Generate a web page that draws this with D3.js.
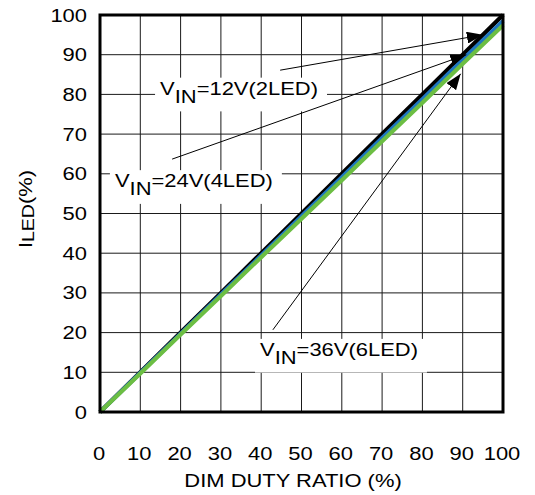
<!DOCTYPE html>
<html>
<head>
<meta charset="utf-8">
<script src="https://cdn.jsdelivr.net/npm/d3@7"></script>
<style>
  html, body { margin: 0; padding: 0; background: #fff; }
  svg { display: block; }
  text { font-family: "Liberation Sans", Arial, sans-serif; fill: #000; }
</style>
</head>
<body>
<div id="chart"></div>
<script>
// ---- data ----
const dutyRatio = [0, 10, 20, 30, 40, 50, 60, 70, 80, 90, 100];
const iled12V = [0, 10, 20, 30, 40, 50, 60, 70, 80, 90, 100];
const iled24V = [0, 9.9, 19.7, 29.6, 39.4, 49.3, 59.1, 69.0, 78.8, 88.7, 98.5];
const iled36V = [0, 9.7, 19.5, 29.2, 39.0, 48.7, 58.4, 68.2, 77.9, 87.7, 97.4];
const xTicks = [0, 10, 20, 30, 40, 50, 60, 70, 80, 90, 100];
const yTicks = [0, 10, 20, 30, 40, 50, 60, 70, 80, 90, 100];
const seriesNames = ["12V(2LED)", "24V(4LED)", "36V(6LED)"];
const seriesColors = ["#000000", "#1f77c0", "#6cbe43"];
// annotation labels: [main, subscript, rest] and anchor (data units)
const labelTexts = [["V", "IN", "=12V(2LED)"], ["V", "IN", "=24V(4LED)"], ["V", "IN", "=36V(6LED)"]];
const labelAnchorX = [14.9, 3.7, 39.7];
const labelAnchorY = [79.9, 56.6, 14.1];
// arrows: start (data) -> tip (data)
const arrowFromX = [44.7, 17.9, 42.9];
const arrowFromY = [86.1, 63.7, 20.7];
const arrowToX = [95.0, 90.9, 89.5];
const arrowToY = [95.0, 90.0, 85.2];

// ---- layout ----
const W = 535, H = 495;
const margin = { left: 100, right: 32, top: 15, bottom: 83 };
const SX = 1.22; // horizontal text stretch
const FS = 18;

const svg = d3.select("#chart").append("svg").attr("width", W).attr("height", H);

const x = d3.scaleLinear().domain([0, 100]).range([margin.left, W - margin.right]);
const y = d3.scaleLinear().domain([0, 100]).range([H - margin.bottom, margin.top]);

// grid
const grid = svg.append("g");
grid.selectAll(".vg").data(xTicks.slice(1, -1)).join("line")
  .attr("x1", d => x(d)).attr("x2", d => x(d))
  .attr("y1", y(0)).attr("y2", y(100))
  .attr("stroke", "#1a1a1a").attr("stroke-width", 1);
grid.selectAll(".hg").data(yTicks.slice(1, -1)).join("line")
  .attr("x1", x(0)).attr("x2", x(100))
  .attr("y1", d => y(d)).attr("y2", d => y(d))
  .attr("stroke", "#1a1a1a").attr("stroke-width", 1);

// annotation labels with white background boxes
const boxLayer = svg.append("g");
const labelLayer = svg.append("g");
labelTexts.forEach((parts, i) => {
  const g = labelLayer.append("g")
    .attr("transform", `translate(${x(labelAnchorX[i])},${y(labelAnchorY[i])}) scale(${SX},1)`);
  const t = g.append("text").attr("font-size", FS);
  t.append("tspan").text(parts[0]);
  t.append("tspan").attr("dy", 8).text(parts[1]);
  t.append("tspan").attr("dy", -8).text(parts[2]);
  const bb = t.node().getBBox();
  boxLayer.append("rect")
    .attr("x", x(labelAnchorX[i]) + bb.x * SX - 5)
    .attr("y", y(labelAnchorY[i]) + bb.y - 1)
    .attr("width", bb.width * SX + 14)
    .attr("height", bb.height + 6)
    .attr("fill", "#fff");
});
labelLayer.raise();

// series lines
const line = d3.line().x((d, i) => x(dutyRatio[i])).y(d => y(d));
[iled12V, iled24V, iled36V].forEach((vals, i) => {
  svg.append("path").datum(vals)
    .attr("d", line)
    .attr("fill", "none")
    .attr("stroke", seriesColors[i])
    .attr("stroke-width", 4.2)
    .attr("stroke-linecap", "butt");
});

// arrows
svg.append("defs").append("marker")
  .attr("id", "ah").attr("markerUnits", "userSpaceOnUse")
  .attr("viewBox", "0 0 16 12").attr("refX", 16).attr("refY", 6)
  .attr("markerWidth", 16).attr("markerHeight", 12)
  .attr("orient", "auto")
  .append("path").attr("d", "M0,0 L16,6 L0,12 Z").attr("fill", "#000");
arrowFromX.forEach((fx, i) => {
  svg.append("line")
    .attr("x1", x(fx)).attr("y1", y(arrowFromY[i]))
    .attr("x2", x(arrowToX[i])).attr("y2", y(arrowToY[i]))
    .attr("stroke", "#000").attr("stroke-width", 1)
    .attr("marker-end", "url(#ah)");
});
labelLayer.raise();

// frame
svg.append("rect")
  .attr("x", x(0)).attr("y", y(100))
  .attr("width", x(100) - x(0)).attr("height", y(0) - y(100))
  .attr("fill", "none").attr("stroke", "#000").attr("stroke-width", 3);

// tick labels
svg.append("g").selectAll("g").data(yTicks).join("g")
  .attr("transform", d => `translate(87,${y(d) + 6.5}) scale(${SX},1)`)
  .append("text").attr("font-size", FS).attr("text-anchor", "end").text(d => d);
svg.append("g").selectAll("g").data(xTicks).join("g")
  .attr("transform", d => `translate(${x(d) - 1},460) scale(${SX},1)`)
  .append("text").attr("font-size", FS).attr("text-anchor", "middle").text(d => d);

// axis titles
svg.append("g").attr("transform", `translate(293,487) scale(${SX},1)`)
  .append("text").attr("font-size", FS).attr("text-anchor", "middle")
  .text("DIM DUTY RATIO (%)");
const yt = svg.append("g").attr("transform", `translate(32,209) rotate(-90) scale(${SX},1)`)
  .append("text").attr("font-size", FS).attr("text-anchor", "middle");
yt.append("tspan").text("I");
yt.append("tspan").attr("font-size", 16).attr("dy", 1.5).text("LED");
yt.append("tspan").attr("dy", -1.5).text("(%)");
</script>
</body>
</html>
